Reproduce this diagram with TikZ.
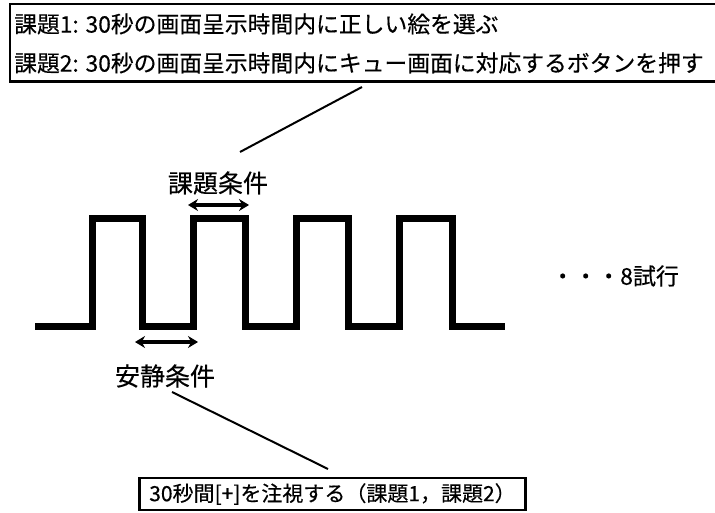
\documentclass[tikz,border=0pt]{standalone}
\usepackage{fontspec}
\setmainfont{Noto Sans CJK JP}[FakeBold=0.4]
\usetikzlibrary{arrows.meta}
\begin{document}
\begin{tikzpicture}[x=1pt,y=-1pt,
  boxline/.style={line width=2.4pt, black},
  rowtext/.style={anchor=west, inner sep=0pt, font=\fontsize{22.8}{26}\selectfont},
  labeltext/.style={inner sep=0pt, font=\fontsize{25}{28}\selectfont},
  wave/.style={line width=7pt, line join=miter},
  leader/.style={line width=2pt},
  dimarrow/.style={line width=3.2pt, {Stealth[length=10pt,width=12pt]}-{Stealth[length=10pt,width=12pt]}}
]
\useasboundingbox (0,0) rectangle (715,513);

% top box
\node[minimum width=705pt, minimum height=77pt, anchor=north west, inner sep=0pt] (topbox) at (10,4) {};
\draw[boxline] (topbox.north east) -- (topbox.north west) -- (topbox.south west) -- (topbox.south east);
\node[rowtext] (row1) at (14,24) {課題1: 30秒の画面呈示時間内に正しい絵を選ぶ};
\node[rowtext] (row2) at (14,63) {課題2: 30秒の画面呈示時間内にキュー画面に対応するボタンを押す};

% square wave
\draw[wave] (35,326) -- (92,326) -- (92,219) -- (142,219) -- (142,326) -- (193,326)
  -- (193,219) -- (245,219) -- (245,326) -- (296,326) -- (296,219) -- (348,219)
  -- (348,326) -- (399,326) -- (399,219) -- (452,219) -- (452,326) -- (505,326);

% labels
\node[labeltext] (task) at (218,183) {課題条件};
\node[labeltext] (rest) at (165,376) {安静条件};
\node[anchor=west, inner sep=0pt, font=\fontsize{23}{26}\selectfont] (trials) at (551,276) {・・・8試行};

% arrows
\coordinate (tA) at (188,205);
\coordinate (tB) at (249,205);
\draw[dimarrow] (tA) -- (tB);
\coordinate (rA) at (135,342);
\coordinate (rB) at (198,342);
\draw[dimarrow] (rA) -- (rB);

% bottom box
\node[draw, line width=2.2pt, minimum width=386pt, minimum height=32pt, inner xsep=4pt, inner ysep=0pt,
      font=\fontsize{21}{24}\selectfont] (botbox) at (332.5,494) {30秒間[+]を注視する（課題1，課題2）};

% leader lines
\coordinate (l1a) at (362,87);
\coordinate (l1b) at (240,152);
\draw[leader] (l1a) -- (l1b);
\coordinate (l2a) at (172,392);
\coordinate (l2b) at (328,469);
\draw[leader] (l2a) -- (l2b);
\end{tikzpicture}
\end{document}
